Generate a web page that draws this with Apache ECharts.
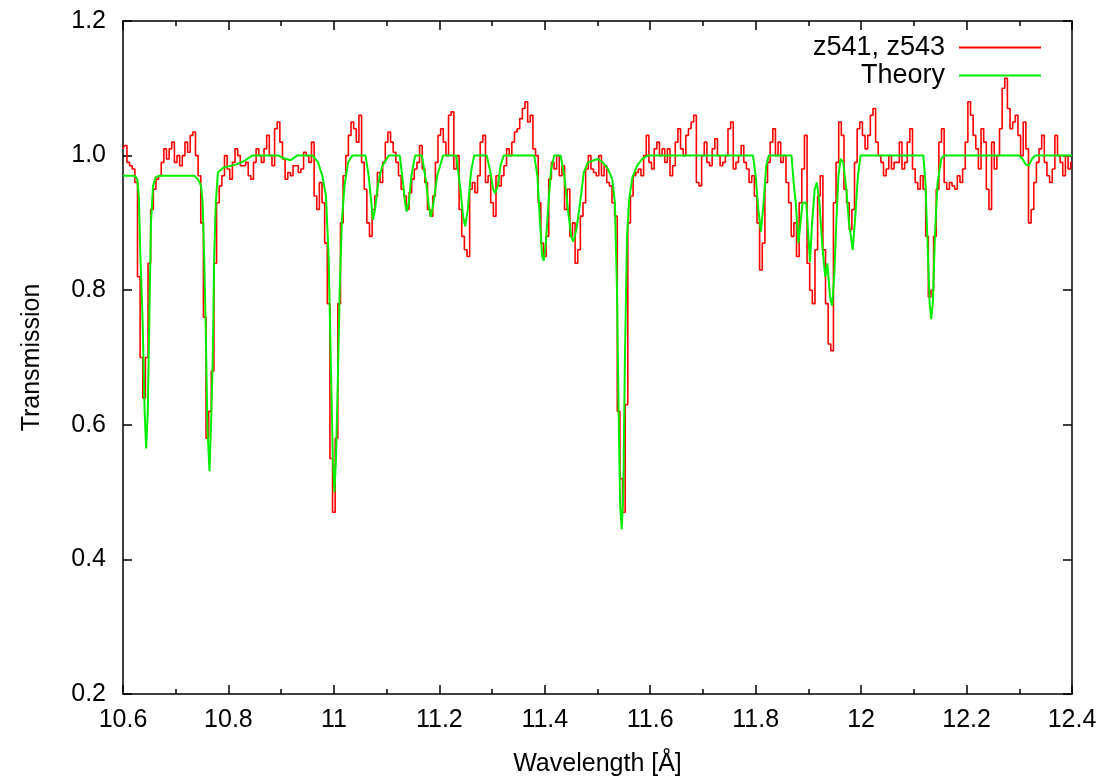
<!DOCTYPE html>
<html>
<head>
<meta charset="utf-8">
<script src="https://cdn.jsdelivr.net/npm/echarts@6/dist/echarts.min.js"></script>
<style>
html,body{margin:0;padding:0;background:#fff;}
#chart{width:1116px;height:780px;}
</style>
</head>
<body>
<div id="chart"></div>
<script>
// Observed spectrum (z541, z543): transmission per 0.005 Å bin starting at 10.600 Å
const obsStart = 10.60;
const obsBin = 0.005;
const obsT = [
  1.01,1.015,0.99,0.985,0.98,0.96,0.82,0.70,0.64,0.70,0.84,0.92,0.95,0.965,0.97,0.99,1.01,0.995,1.01,1.02,
  0.99,1.00,0.985,1.00,1.02,1.005,1.03,1.035,1.00,0.97,0.90,0.76,0.58,0.62,0.68,0.84,0.93,0.955,0.97,1.00,
  0.98,0.965,0.99,1.01,1.00,0.985,0.985,0.99,0.97,0.965,0.99,1.01,1.00,0.99,1.01,1.03,1.00,0.985,1.04,1.05,
  1.02,0.995,0.965,0.975,0.97,0.985,0.985,0.975,0.98,1.005,1.00,0.99,1.02,0.94,0.92,0.96,0.93,0.87,0.78,0.55,
  0.47,0.58,0.78,0.90,0.97,1.00,1.03,1.05,1.04,1.02,1.06,0.99,0.95,0.90,0.88,0.92,0.94,0.975,0.96,0.99,
  1.02,1.035,1.02,1.005,0.99,0.97,0.95,0.94,0.92,0.945,0.965,0.98,0.99,1.015,0.98,0.96,0.92,0.91,0.94,0.99,
  1.03,1.04,1.02,1.00,1.06,1.065,0.98,1.00,0.92,0.88,0.86,0.85,0.95,0.96,0.945,0.97,1.02,1.03,0.96,0.97,
  0.93,0.91,0.97,0.955,0.97,0.985,1.01,1.00,1.02,1.035,1.04,1.055,1.07,1.08,1.05,1.06,1.01,1.00,0.93,0.87,
  0.85,0.88,0.965,0.99,0.98,1.00,0.97,0.985,0.92,0.95,0.88,0.90,0.84,0.86,0.91,0.93,0.98,1.00,0.98,0.975,
  0.97,1.00,0.97,0.985,0.96,0.955,0.93,0.91,0.62,0.52,0.47,0.63,0.90,0.94,0.97,0.975,0.98,0.97,1.00,1.03,
  0.99,0.98,1.01,1.02,1.00,1.01,0.99,1.01,0.97,0.985,1.02,1.04,1.01,1.00,1.03,1.04,1.05,1.06,0.96,0.955,
  1.00,1.02,0.99,0.985,1.01,1.025,1.00,0.985,0.99,1.00,1.04,1.05,0.98,0.99,1.00,1.015,0.99,0.98,0.96,0.97,
  0.94,0.90,0.83,0.87,0.96,0.99,1.02,1.04,1.00,1.02,0.99,1.00,0.96,0.93,0.88,0.90,0.85,0.93,0.98,1.03,
  0.84,0.80,0.78,0.86,0.94,0.97,0.86,0.78,0.72,0.71,0.93,0.99,1.05,1.03,0.95,0.93,0.89,0.92,0.99,1.04,
  1.05,1.03,1.01,1.03,1.06,1.07,1.02,1.00,0.99,0.97,0.98,1.00,0.98,0.99,0.99,1.02,0.98,0.99,1.02,1.04,
  0.98,0.96,0.95,0.97,0.95,0.88,0.79,0.80,0.88,0.95,1.02,1.04,0.96,0.95,0.96,0.955,0.95,0.97,0.96,0.98,
  1.02,1.08,1.06,1.03,1.01,0.98,1.04,1.02,0.95,0.92,1.02,0.98,1.00,1.04,1.10,1.115,1.07,1.04,1.05,1.06,
  1.03,1.00,1.05,1.01,0.90,0.92,0.96,0.99,1.01,1.03,0.99,0.97,0.96,0.98,1.03,1.00,0.99,0.97,1.00,0.98,
  0.99
];

// Theory curve: wavelength (Å) and transmission
const theoryWl = [
  10.600,10.622,10.627,10.630,10.633,10.637,10.641,10.644,10.647,10.650,10.653,10.657,10.662,10.670,
  10.735,10.742,10.748,10.751,10.754,10.757,10.760,10.764,10.767,10.770,10.773,10.776,10.780,10.790,
  10.815,10.830,10.845,10.895,10.905,10.918,10.930,10.960,10.970,10.978,10.985,10.990,10.994,10.998,
  11.001,11.004,11.007,11.011,11.015,11.020,11.027,11.035,11.060,11.066,11.071,11.074,11.078,11.084,
  11.092,11.104,11.125,11.131,11.135,11.138,11.142,11.147,11.154,11.167,11.175,11.180,11.184,11.189,
  11.196,11.207,11.232,11.240,11.245,11.249,11.254,11.260,11.266,11.290,11.297,11.302,11.306,11.311,
  11.316,11.322,11.380,11.386,11.391,11.395,11.398,11.402,11.407,11.412,11.418,11.430,11.437,11.444,
  11.450,11.454,11.460,11.467,11.474,11.482,11.500,11.510,11.520,11.528,11.533,11.537,11.540,11.543,
  11.546,11.549,11.552,11.556,11.560,11.566,11.575,11.585,11.595,11.795,11.800,11.805,11.810,11.815,
  11.820,11.825,11.868,11.872,11.876,11.881,11.885,11.889,11.896,11.900,11.903,11.907,11.912,11.916,
  11.921,11.927,11.932,11.936,11.941,11.945,11.949,11.953,11.957,11.961,11.966,11.972,11.977,11.984,
  11.989,11.994,11.999,12.118,12.122,12.126,12.130,12.133,12.136,12.140,12.145,12.152,12.157,12.300,
  12.306,12.312,12.318,12.324,12.330,12.400
];
const theoryT = [
  0.970,0.970,0.965,0.940,0.850,0.760,0.620,0.565,0.620,0.760,0.900,0.955,0.968,0.970,
  0.970,0.965,0.955,0.930,0.850,0.740,0.600,0.531,0.600,0.690,0.850,0.930,0.975,0.982,
  0.987,0.992,1.000,1.000,0.996,0.993,1.000,1.000,0.990,0.970,0.940,0.850,0.700,0.550,
  0.500,0.550,0.650,0.800,0.900,0.955,0.990,1.000,1.000,0.970,0.930,0.905,0.920,0.960,
  0.985,1.000,1.000,0.960,0.930,0.917,0.930,0.970,1.000,1.000,0.960,0.925,0.909,0.930,
  0.970,1.000,1.000,0.950,0.910,0.895,0.920,0.975,1.000,1.000,0.975,0.950,0.944,0.955,
  0.985,1.000,1.000,0.970,0.900,0.850,0.844,0.870,0.930,0.980,1.000,1.000,0.970,0.920,
  0.880,0.872,0.890,0.930,0.975,0.990,0.995,0.990,0.980,0.965,0.930,0.800,0.620,0.480,
  0.445,0.500,0.700,0.880,0.935,0.967,0.985,0.995,1.000,1.000,0.970,0.920,0.887,0.930,
  0.985,1.000,1.000,0.960,0.930,0.870,0.900,0.930,0.930,0.880,0.842,0.900,0.950,0.960,
  0.930,0.860,0.820,0.840,0.790,0.777,0.820,0.900,0.970,0.995,0.990,0.950,0.900,0.860,
  0.910,0.970,1.000,1.000,0.960,0.870,0.780,0.757,0.780,0.880,0.960,0.995,1.000,1.000,
  0.995,0.987,0.985,0.995,1.000,1.000
];

const xTicks = { min: 10.6, max: 12.4, interval: 0.2 };
const yTicks = { min: 0.2, max: 1.2, interval: 0.2 };
const seriesNames = ['z541, z543', 'Theory'];
const xTitle = 'Wavelength [Å]';
const yTitle = 'Transmission';

const obsData = obsT.map((v, i) => [+(obsStart + i * obsBin).toFixed(3), v]);
const theoryData = theoryWl.map((w, i) => [w, theoryT[i]]);

const FONT = 'Liberation Sans, Arial, sans-serif';
const FS = 25;
const LFS = 27;
const axisLine = { show: true, onZero: false, lineStyle: { color: '#000', width: 1.5 } };
const majorTick = { show: true, inside: true, length: 9, lineStyle: { color: '#000', width: 1.5 } };
const minorTick = { show: true, splitNumber: 2, length: 5, lineStyle: { color: '#000', width: 1.5 } };
const fmtX = v => String(parseFloat(v.toFixed(1)));

const chart = echarts.init(document.getElementById('chart'), null, { renderer: 'canvas' });
chart.setOption({
  animation: false,
  backgroundColor: '#fff',
  grid: { left: 123, right: 44, top: 21, bottom: 86, containLabel: false, outerBoundsMode: 'none' },
  legend: [
    {
      data: [seriesNames[0]], right: 70, top: 29, align: 'right', orient: 'vertical',
      itemWidth: 82, itemHeight: 2, icon: 'rect', itemGap: 0,
      textStyle: { fontFamily: FONT, fontSize: LFS, color: '#000', padding: [0, 9, 0, 0] }
    },
    {
      data: [seriesNames[1]], right: 70, top: 57, align: 'right', orient: 'vertical',
      itemWidth: 82, itemHeight: 2, icon: 'rect', itemGap: 0,
      textStyle: { fontFamily: FONT, fontSize: LFS, color: '#000', padding: [0, 9, 0, 0] }
    }
  ],
  xAxis: [
    {
      type: 'value', position: 'bottom', min: xTicks.min, max: xTicks.max, interval: xTicks.interval,
      axisLine: axisLine, axisTick: majorTick, minorTick: minorTick, splitLine: { show: false },
      axisLabel: { show: true, margin: 14, fontFamily: FONT, fontSize: FS, color: '#000', formatter: fmtX, showMinLabel: true, showMaxLabel: true },
      name: xTitle, nameLocation: 'middle', nameGap: 58,
      nameTextStyle: { fontFamily: FONT, fontSize: FS, color: '#000' }
    },
    {
      type: 'value', position: 'top', min: xTicks.min, max: xTicks.max, interval: xTicks.interval,
      axisLine: axisLine, axisTick: majorTick, minorTick: minorTick, splitLine: { show: false },
      axisLabel: { show: false }
    }
  ],
  yAxis: [
    {
      type: 'value', position: 'left', min: yTicks.min, max: yTicks.max, interval: yTicks.interval,
      axisLine: axisLine, axisTick: majorTick, splitLine: { show: false },
      axisLabel: { show: true, margin: 17, fontFamily: FONT, fontSize: FS, color: '#000', formatter: v => v.toFixed(1) },
      name: yTitle, nameLocation: 'middle', nameGap: 78, nameRotate: 90,
      nameTextStyle: { fontFamily: FONT, fontSize: FS, color: '#000' }
    },
    {
      type: 'value', position: 'right', min: yTicks.min, max: yTicks.max, interval: yTicks.interval,
      axisLine: axisLine, axisTick: majorTick, splitLine: { show: false },
      axisLabel: { show: false }
    }
  ],
  series: [
    {
      name: seriesNames[0], type: 'line', step: 'middle', data: obsData,
      showSymbol: false, symbol: 'none', xAxisIndex: 0, yAxisIndex: 0,
      lineStyle: { color: '#ff0000', width: 1.6 }, itemStyle: { color: '#ff0000' }, z: 2
    },
    {
      name: seriesNames[1], type: 'line', data: theoryData,
      showSymbol: false, symbol: 'none', xAxisIndex: 0, yAxisIndex: 0,
      lineStyle: { color: '#00ee00', width: 2 }, itemStyle: { color: '#00ee00' }, z: 3
    }
  ]
});
</script>
</body>
</html>
